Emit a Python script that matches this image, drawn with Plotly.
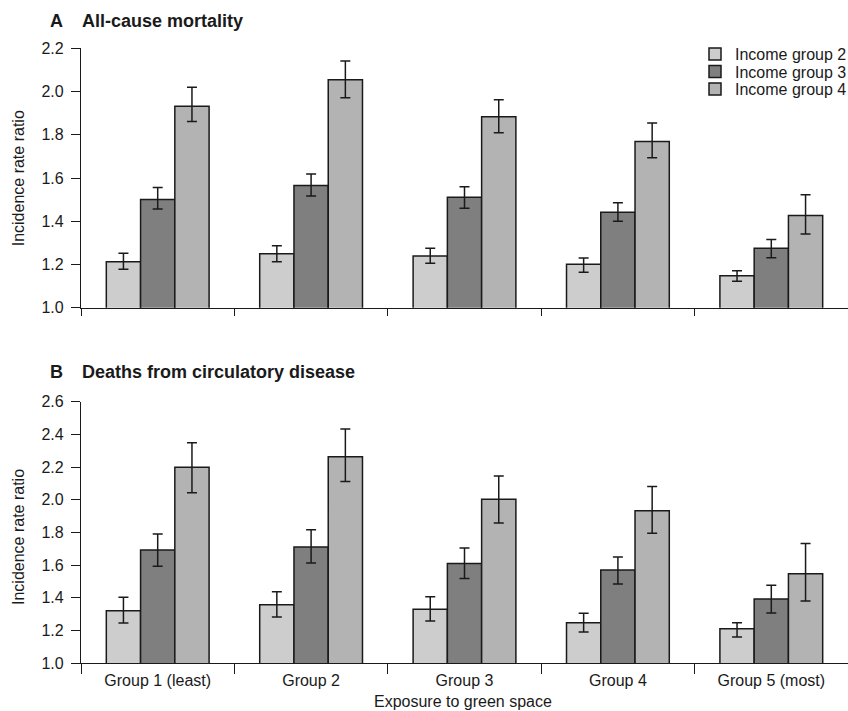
import plotly.graph_objects as go

W, H = 848, 711

categories = ["Group 1 (least)", "Group 2", "Group 3", "Group 4", "Group 5 (most)"]
series_names = ["Income group 2", "Income group 3", "Income group 4"]
series_colors = ["#cdcdcd", "#7f7f7f", "#b3b3b3"]

# Panel A: All-cause mortality
a_ig2 = [1.213, 1.250, 1.239, 1.201, 1.148]
a_ig2_hi = [1.252, 1.287, 1.275, 1.230, 1.171]
a_ig2_lo = [1.178, 1.213, 1.206, 1.164, 1.122]
a_ig3 = [1.500, 1.565, 1.511, 1.442, 1.275]
a_ig3_hi = [1.556, 1.618, 1.559, 1.486, 1.315]
a_ig3_lo = [1.457, 1.517, 1.460, 1.400, 1.231]
a_ig4 = [1.932, 2.054, 1.883, 1.769, 1.426]
a_ig4_hi = [2.020, 2.141, 1.962, 1.854, 1.523]
a_ig4_lo = [1.861, 1.971, 1.809, 1.694, 1.341]

# Panel B: Deaths from circulatory disease
b_ig2 = [1.320, 1.357, 1.329, 1.247, 1.210]
b_ig2_hi = [1.402, 1.437, 1.406, 1.304, 1.247]
b_ig2_lo = [1.245, 1.282, 1.257, 1.190, 1.159]
b_ig3 = [1.692, 1.710, 1.610, 1.569, 1.392]
b_ig3_hi = [1.790, 1.816, 1.704, 1.649, 1.476]
b_ig3_lo = [1.592, 1.612, 1.518, 1.484, 1.306]
b_ig4 = [2.198, 2.263, 2.002, 1.933, 1.547]
b_ig4_hi = [2.349, 2.433, 2.145, 2.080, 1.731]
b_ig4_lo = [2.043, 2.112, 1.857, 1.794, 1.380]

panel_a = [(a_ig2, a_ig2_hi, a_ig2_lo), (a_ig3, a_ig3_hi, a_ig3_lo), (a_ig4, a_ig4_hi, a_ig4_lo)]
panel_b = [(b_ig2, b_ig2_hi, b_ig2_lo), (b_ig3, b_ig3_hi, b_ig3_lo), (b_ig4, b_ig4_hi, b_ig4_lo)]

FONT = "Liberation Sans, Arial, Helvetica, sans-serif"
INK = "#1a1a1a"
legend_ids = ["legend", "legend2", "legend3"]

fig = go.Figure()

def add_panel(data, xa, ya, show_legend):
    for (vals, hi, lo), name, col, lg in zip(data, series_names, series_colors, legend_ids):
        fig.add_trace(go.Bar(
            x=categories, y=vals, name=name, xaxis=xa, yaxis=ya,
            marker=dict(color=col, line=dict(color=INK, width=1.5)),
            error_y=dict(type="data", symmetric=False,
                         array=[h - v for h, v in zip(hi, vals)],
                         arrayminus=[v - l for v, l in zip(vals, lo)],
                         color=INK, thickness=1.5, width=5),
            showlegend=show_legend, legend=lg,
        ))

add_panel(panel_a, "x", "y", True)
add_panel(panel_b, "x2", "y2", False)

def px_x(p):
    return p / W

def px_y(p):
    return 1 - p / H

xdom = [px_x(81), 1.0]
axis_common = dict(showline=True, linecolor=INK, linewidth=1.2, showgrid=False,
                   zeroline=False, ticks="outside", tickcolor=INK, tickwidth=1.2,
                   automargin=False,
                   tickfont=dict(family=FONT, size=16, color=INK))

def legend_at(yc):
    return dict(x=px_x(695), y=px_y(yc), xanchor="left", yanchor="middle",
                font=dict(family=FONT, size=16, color=INK), bgcolor="rgba(0,0,0,0)",
                borderwidth=0, tracegroupgap=0)

fig.update_layout(
    template="none",
    width=W, height=H,
    margin=dict(l=0, r=0, t=0, b=0, pad=0, autoexpand=False),
    paper_bgcolor="white", plot_bgcolor="white",
    barmode="group", bargap=0.33, bargroupgap=0,
    font=dict(family=FONT, size=16, color=INK),
    xaxis=dict(domain=xdom, anchor="y", type="category", tickson="boundaries",
               showticklabels=False, ticklen=7, range=[-0.5, 4.5], **axis_common),
    yaxis=dict(domain=[px_y(307.7), px_y(48.3)], anchor="x", range=[1.0, 2.2],
               dtick=0.2, tick0=1.0, tickformat=".1f", ticklen=9,
               ticklabelstandoff=4, **axis_common),
    xaxis2=dict(domain=xdom, anchor="y2", type="category", tickson="boundaries",
                ticklen=10, range=[-0.5, 4.5], ticklabelstandoff=3, **axis_common),
    yaxis2=dict(domain=[px_y(663), px_y(401.7)], anchor="x2", range=[1.0, 2.6],
                dtick=0.2, tick0=1.0, tickformat=".1f", ticklen=9,
                ticklabelstandoff=4, **axis_common),
    legend=legend_at(54),
    legend2=legend_at(71.5),
    legend3=legend_at(89),
    showlegend=True,
)

ann = []
def text(x, y, t, size=16, bold=False, angle=0, xanchor="center"):
    ann.append(dict(x=px_x(x), y=px_y(y), xref="paper", yref="paper",
                    text=("<b>%s</b>" % t) if bold else t,
                    showarrow=False, textangle=angle, xanchor=xanchor, yanchor="middle",
                    font=dict(family=FONT, size=size, color=INK)))

text(48, 20.7, "A", size=18, bold=True, xanchor="left")
text(80, 20.7, "All-cause mortality", size=18, bold=True, xanchor="left")
text(48, 371.7, "B", size=18, bold=True, xanchor="left")
text(80, 371.7, "Deaths from circulatory disease", size=18, bold=True, xanchor="left")
text(18, 178.3, "Incidence rate ratio", angle=-90)
text(18, 537, "Incidence rate ratio", angle=-90)
text(463, 701.5, "Exposure to green space")

fig.update_layout(annotations=ann)

# remove the default page margin so the 848x711 figure fills the window exactly
fig.write_html("out.html",
               config={"displayModeBar": False},
               post_script="document.body.style.margin='0';document.body.style.overflow='hidden';")
